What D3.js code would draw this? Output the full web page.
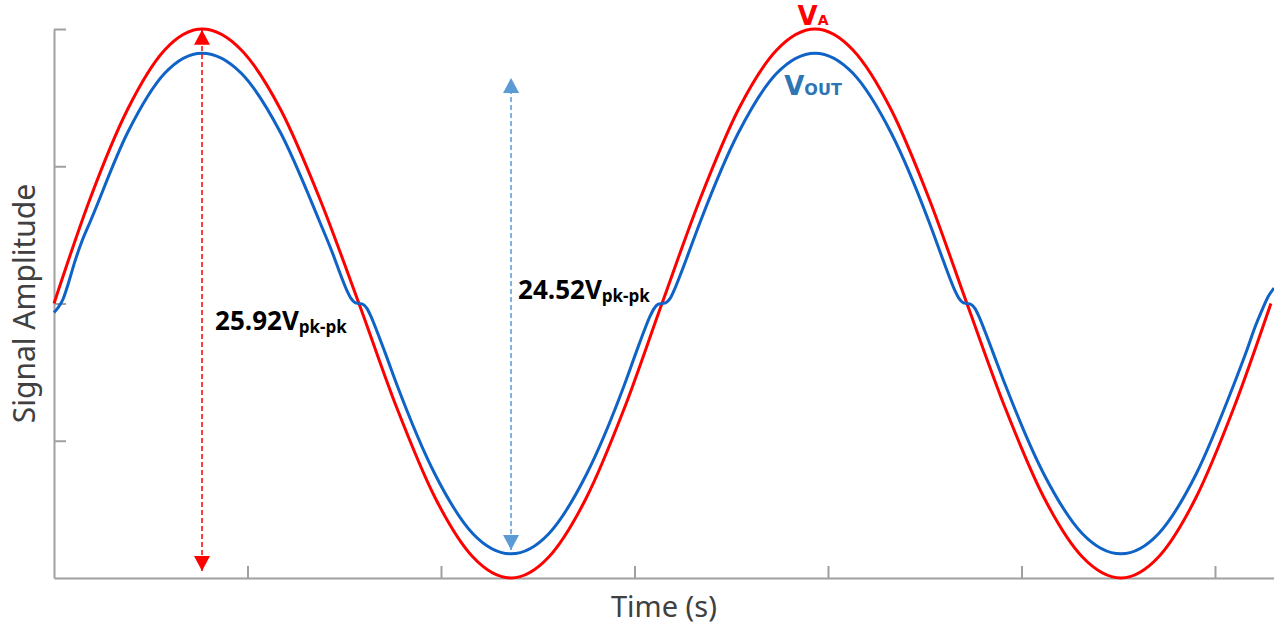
<!DOCTYPE html>
<html>
<head>
<meta charset="utf-8">
<script src="https://cdn.jsdelivr.net/npm/d3@7"></script>
<style>
  body { margin: 0; background: #fff; }
  .axis path, .axis line { stroke: #a0a0a0; stroke-width: 2; }
  .axis text { display: none; }
</style>
</head>
<body>
<div class="chart"></div>
<script>
  // V_A (input): [time, volts]
  var inputA = [
    [0, 0], [0.187, 4.96], [0.380, 9.16], [0.572, 11.97], [0.765, 12.96],
    [0.968, 11.97], [1.171, 9.16], [1.373, 4.96], [1.576, 0],
    [1.773, -4.96], [1.969, -9.16], [2.165, -11.97], [2.362, -12.96],
    [2.557, -11.97], [2.752, -9.16], [2.947, -4.96], [3.142, 0],
    [3.340, 4.96], [3.537, 9.16], [3.735, 11.97], [3.933, 12.96],
    [4.129, 11.97], [4.326, 9.16], [4.522, 4.96], [4.718, 0],
    [4.917, -4.96], [5.116, -9.16], [5.315, -11.97], [5.514, -12.96],
    [5.708, -11.97], [5.902, -9.16], [6.096, -4.96], [6.289, 0]
  ];

  // V_OUT (with crossover step)
  var outputV = [
    [0, -0.43], [0.0207, -0.2], [0.0465, 0.2], [0.0724, 0.9], [0.1085, 2.0], [0.1447, 2.95],
    [0.187, 3.86], [0.380, 8.06], [0.572, 10.87], [0.765, 11.82],
    [0.968, 10.87], [1.171, 8.06], [1.373, 3.86],
    [1.442, 2.32], [1.483, 1.31], [1.514, 0.61], [1.535, 0.24], [1.556, 0.04], [1.576, 0],
    [1.597, -0.04], [1.618, -0.24], [1.638, -0.61], [1.669, -1.31], [1.711, -2.32],
    [1.773, -3.86], [1.969, -8.06], [2.165, -10.87], [2.362, -11.82],
    [2.557, -10.87], [2.752, -8.06], [2.947, -3.86],
    [3.008, -2.32], [3.049, -1.31], [3.080, -0.61], [3.101, -0.24], [3.121, -0.04], [3.142, 0],
    [3.163, 0.04], [3.184, 0.24], [3.204, 0.61], [3.235, 1.31], [3.277, 2.32],
    [3.340, 3.86], [3.537, 8.06], [3.735, 10.87], [3.933, 11.82],
    [4.129, 10.87], [4.326, 8.06], [4.522, 3.86],
    [4.584, 2.32], [4.625, 1.31], [4.656, 0.61], [4.677, 0.24], [4.698, 0.04], [4.718, 0],
    [4.739, -0.04], [4.760, -0.24], [4.780, -0.61], [4.811, -1.31], [4.853, -2.32],
    [4.917, -3.86], [5.116, -8.06], [5.315, -10.87], [5.514, -11.82],
    [5.708, -10.87], [5.902, -8.06], [6.096, -3.86],
    [6.165, -2.2], [6.207, -1.11], [6.243, -0.31], [6.274, 0.31], [6.305, 0.73]
  ];

  var xTicks = [1, 2, 3, 4, 5, 6];
  var yTicks = [12.96, 6.48, 0, -6.48];

  // peak-to-peak markers: time, top tip, bottom tip
  var spanTimes = [0.765, 2.362];
  var spanTops = [12.92, 10.65];
  var spanBottoms = [-12.63, -11.64];
  var spanValues = ["25.92V", "24.52V"];
  var spanUnit = "pk-pk";

  var margin = {
    top: 29,
    right: 0,
    bottom: 47,
    left: 54
  },
  width = 1274 - margin.left - margin.right,
  height = 625 - margin.top - margin.bottom;

  var x = d3.scaleLinear()
            .domain([0, 6.305])
            .range([0, width]);

  var y = d3.scaleLinear()
            .domain([-12.96, 12.96])
            .range([height, 0]);

  var red = "#ff0000",
      blue = "#0f63c6",
      lightBlue = "#5b9bd5";

  var svg = d3.select(".chart").append("svg")
              .attr("width", width + margin.left + margin.right)
              .attr("height", height + margin.top + margin.bottom)
              .append("g")
              .attr("transform", "translate(" + margin.left + "," + margin.top + ")");

  var defs = svg.append("defs");
  [["arrRed", red], ["arrBlue", lightBlue]].forEach(function(m) {
    defs.append("marker")
        .attr("id", m[0])
        .attr("markerUnits", "userSpaceOnUse")
        .attr("viewBox", "0 -8 15 16")
        .attr("refX", 15)
        .attr("refY", 0)
        .attr("markerWidth", 15)
        .attr("markerHeight", 16)
        .attr("orient", "auto-start-reverse")
        .append("path")
        .attr("d", "M0,-8L15,0L0,8Z")
        .attr("fill", m[1]);
  });

  svg.append("g")
     .attr("class", "x axis")
     .attr("transform", "translate(0," + height + ")")
     .call(d3.axisBottom(x).tickValues(xTicks).tickSizeInner(-12).tickSizeOuter(0).tickFormat(""));

  svg.append("g")
     .attr("class", "y axis")
     .call(d3.axisLeft(y).tickValues(yTicks).tickSizeInner(-12).tickSizeOuter(0).tickFormat(""));

  svg.append("text")
     .attr("transform", "translate(" + (-30) + "," + y(0) + ") rotate(-90)")
     .attr("text-anchor", "middle")
     .attr("dy", "0.35em")
     .style("font-family", "Noto Sans")
     .style("font-size", "30px")
     .style("fill", "#404040")
     .text("Signal Amplitude");

  svg.append("text")
     .attr("x", x(3.142) + 2)
     .attr("y", height + 39)
     .attr("text-anchor", "middle")
     .style("font-family", "Noto Sans")
     .style("font-size", "29px")
     .style("fill", "#404040")
     .text("Time (s)");

  var line = d3.line()
               .curve(d3.curveMonotoneX)
               .x(function(d) { return x(d[0]); })
               .y(function(d) { return y(d[1]); });

  svg.append("path")
     .datum(inputA)
     .attr("d", line)
     .attr("fill", "none")
     .attr("stroke", red)
     .attr("stroke-width", 3);

  svg.append("path")
     .datum(outputV)
     .attr("d", line)
     .attr("fill", "none")
     .attr("stroke", blue)
     .attr("stroke-width", 3);

  // dashed peak-to-peak arrows
  spanTimes.forEach(function(t, i) {
    svg.append("line")
       .attr("x1", x(t))
       .attr("x2", x(t))
       .attr("y1", y(spanBottoms[i]))
       .attr("y2", y(spanTops[i]))
       .attr("stroke", i == 0 ? red : lightBlue)
       .attr("stroke-width", 1.5)
       .attr("stroke-dasharray", "5,3")
       .attr("marker-start", i == 0 ? "url(#arrRed)" : "url(#arrBlue)")
       .attr("marker-end", i == 0 ? "url(#arrRed)" : "url(#arrBlue)");

    var lbl = svg.append("text")
       .attr("x", x(t) + (i == 0 ? 13 : 7))
       .attr("y", i == 0 ? y(0) + 26 : y(0) - 5)
       .style("font-family", "Open Sans")
       .style("font-weight", "bold")
       .style("font-size", "26px")
       .style("fill", "#000");
    lbl.append("tspan").text(spanValues[i]);
    lbl.append("tspan")
       .attr("dy", 3)
       .style("font-size", "17px")
       .text(spanUnit);
  });

  // series names
  var nameA = svg.append("text")
     .attr("x", x(3.933) - 2)
     .attr("y", y(12.96) - 4)
     .attr("text-anchor", "middle")
     .style("font-family", "DejaVu Sans")
     .style("font-weight", "bold")
     .style("font-size", "26px")
     .style("fill", red);
  nameA.append("tspan").text("V");
  nameA.append("tspan").style("font-size", "14px").text("A");

  var nameOut = svg.append("text")
     .attr("x", x(3.933) - 2)
     .attr("y", y(11.82) + 42)
     .attr("text-anchor", "middle")
     .style("font-family", "DejaVu Sans")
     .style("font-weight", "bold")
     .style("font-size", "26px")
     .style("fill", "#2e75b6");
  nameOut.append("tspan").text("V");
  nameOut.append("tspan").style("font-size", "16px").text("OUT");
</script>
</body>
</html>
